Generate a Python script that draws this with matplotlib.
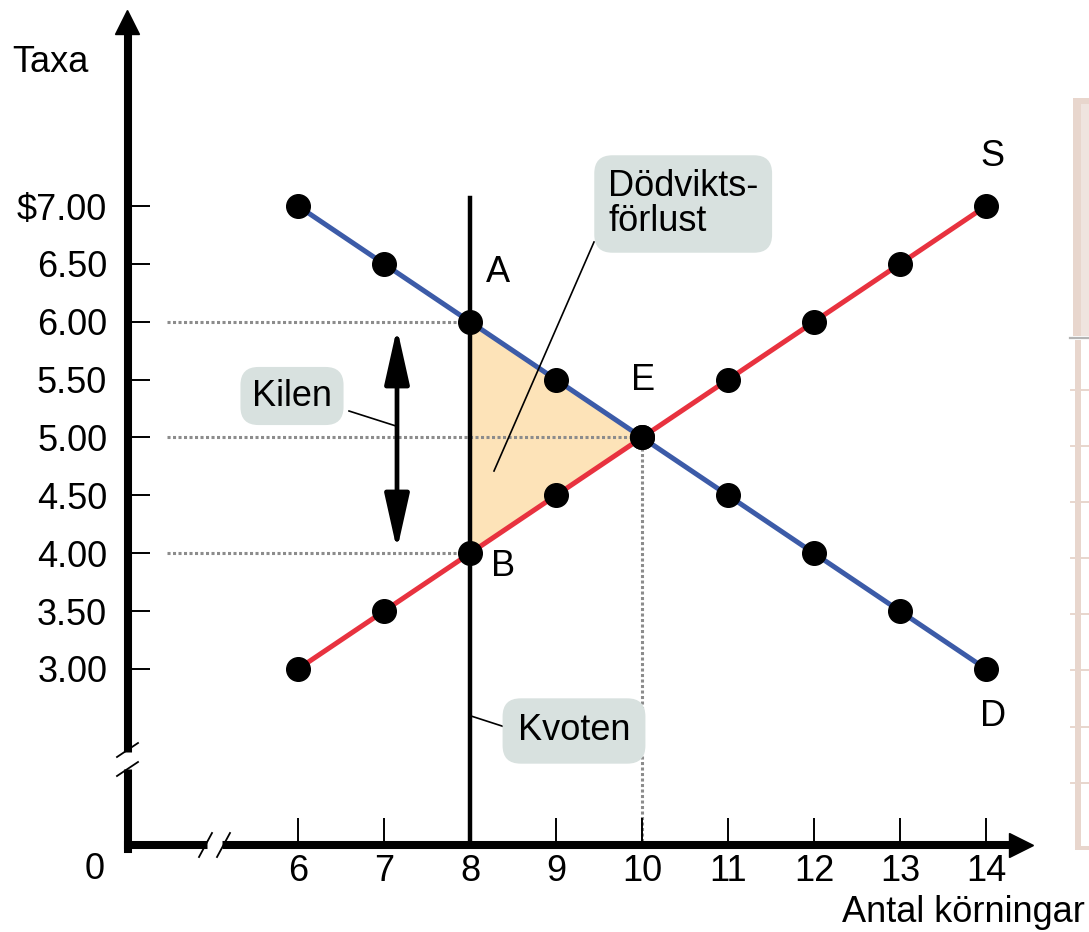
import matplotlib.pyplot as plt
from matplotlib.patches import Rectangle

plt.rcParams['font.family'] = ['Liberation Sans', 'DejaVu Sans']

# data
quantity = [6, 7, 8, 9, 10, 11, 12, 13, 14]
demand = [7.0, 6.5, 6.0, 5.5, 5.0, 4.5, 4.0, 3.5, 3.0]
supply = [3.0, 3.5, 4.0, 4.5, 5.0, 5.5, 6.0, 6.5, 7.0]
price_ticks = [3.0, 3.5, 4.0, 4.5, 5.0, 5.5, 6.0, 6.5, 7.0]
price_labels = ['3.00', '3.50', '4.00', '4.50', '5.00', '5.50', '6.00', '6.50', r'\$7.00']
quota = 8
q_eq = 10
p_eq = 5.0

W, H = 1089, 932
# pixel calibration of the reference picture
PX_X = (986 - 298) / 8
PX_Y = (669 - 206) / 4


def px(xp, yp):
    return 6 + (xp - 298) / PX_X, 7 - (yp - 206) / PX_Y


def axfrac(xp, yp):
    return xp / W, 1 - yp / H


BLUE = '#3c5ba8'
RED = '#e8323f'
BOX = '#d8e1df'
FS = 26

fig = plt.figure(figsize=(W / 100, H / 100), dpi=100)
ax = fig.add_axes([0, 0, 1, 1])
ax.set_xlim(px(0, 0)[0], px(W, 0)[0])
ax.set_ylim(px(0, H)[1], px(0, 0)[1])

x0, y0 = px(128, 845)
ax.spines['top'].set_visible(False)
ax.spines['right'].set_visible(False)
ax.spines['left'].set_position(('data', x0))
ax.spines['bottom'].set_position(('data', y0))
ax.spines['left'].set_linewidth(5.8)
ax.spines['bottom'].set_linewidth(5.8)
ax.spines['left'].set_bounds(px(0, 849)[1], px(0, 30)[1])
ax.spines['bottom'].set_bounds(px(128, 0)[0], px(1012, 0)[0])

# axis arrow heads
ax.plot(*px(126.5, 22), marker='^', ms=17, color='black', clip_on=False, zorder=5)
ax.plot(*px(1021, 845), marker='>', ms=17, color='black', clip_on=False, zorder=5)

ax.set_xticks(quantity)
ax.set_xticklabels([str(q) for q in quantity])
ax.set_yticks(price_ticks)
ax.set_yticklabels(price_labels)
ax.tick_params(axis='x', direction='in', length=19.5, width=1.4, pad=6.5, labelsize=FS)
ax.tick_params(axis='y', direction='in', length=16, width=1.4, pad=15, labelsize=FS)

# axis breaks
yb1, yb2 = px(0, 752)[1], px(0, 769)[1]
ax.plot([x0, x0], [yb1, yb2], color='white', lw=8, solid_capstyle='butt', zorder=3)
for off in (0, 19):
    a = px(117, 757 + off)
    b = px(138, 743 + off)
    ax.plot([a[0], b[0]], [a[1], b[1]], color='black', lw=1.3, zorder=4)
xb1, xb2 = px(207, 0)[0], px(222, 0)[0]
ax.plot([xb1, xb2], [y0, y0], color='white', lw=8, solid_capstyle='butt', zorder=3)
for off in (0, 18):
    a = px(199 + off, 857)
    b = px(212 + off, 833)
    ax.plot([a[0], b[0]], [a[1], b[1]], color='black', lw=1.3, zorder=4)

# deadweight loss triangle
pA = demand[quantity.index(quota)]
pB = supply[quantity.index(quota)]
ax.fill([quota, q_eq, quota], [pA, p_eq, pB], color='#fde3b8', lw=0, zorder=1)

# dotted guides
xs = px(167, 0)[0]
dot = dict(color='#8c8c8c', lw=2.2, linestyle=(0, (1, 0.8)), zorder=1.5)
ax.plot([xs, quota], [pA, pA], **dot)
ax.plot([xs, q_eq], [p_eq, p_eq], **dot)
ax.plot([xs, quota], [pB, pB], **dot)
ax.plot([q_eq, q_eq], [p_eq, y0], **dot)

# curves
ax.plot(quantity, demand, color=BLUE, lw=3.6, zorder=2)
ax.plot(quantity, supply, color=RED, lw=3.6, zorder=2)

# quota line
ax.plot([quota, quota], [y0, px(0, 198)[1]], color='black', lw=3.2, zorder=3)

ax.plot(quantity, demand, 'o', color='black', ms=17, zorder=4)
ax.plot(quantity, supply, 'o', color='black', ms=17, zorder=4)

# wedge double arrow
xk = px(397, 0)[0]
ax.annotate('', xy=(xk, px(0, 328)[1]), xytext=(xk, px(0, 550)[1]),
            arrowprops=dict(arrowstyle='<|-|>,head_length=1.7,head_width=0.38',
                            color='black', lw=3.4, shrinkA=0, shrinkB=0,
                            mutation_scale=20), zorder=4)

# point labels
ax.text(*px(498, 272), 'A', fontsize=FS, ha='center', va='center')
ax.text(*px(503, 567), 'B', fontsize=FS, ha='center', va='center')
ax.text(*px(643, 380), 'E', fontsize=FS, ha='center', va='center')
ax.text(*px(992, 157), 'S', fontsize=FS, ha='center', va='center')
ax.text(*px(993, 717), 'D', fontsize=FS, ha='center', va='center')

# callout boxes
ax.text(*px(292, 396), 'Kilen', fontsize=FS, ha='center', va='center',
        bbox=dict(boxstyle='round,pad=0.32,rounding_size=0.5', fc=BOX, ec='none'), zorder=5)
a, b = px(349, 411), px(396, 426)
ax.plot([a[0], b[0]], [a[1], b[1]], color='black', lw=1.2, zorder=4)

ax.text(*px(608, 204), 'Dödvikts-\nförlust', fontsize=FS, ha='left', va='center',
        linespacing=1.0,
        bbox=dict(boxstyle='round,pad=0.38,rounding_size=0.5', fc=BOX, ec='none'), zorder=5)
a, b = px(594, 242), px(494, 471)
ax.plot([a[0], b[0]], [a[1], b[1]], color='black', lw=1.2, zorder=4)

ax.text(*px(574, 731), 'Kvoten', fontsize=FS, ha='center', va='center',
        bbox=dict(boxstyle='round,pad=0.42,rounding_size=0.5', fc=BOX, ec='none'), zorder=5)
a, b = px(471, 716), px(505, 727)
ax.plot([a[0], b[0]], [a[1], b[1]], color='black', lw=1.2, zorder=4)

# axis titles
ax.text(*px(50, 63), 'Taxa', fontsize=FS, ha='center', va='center')
ax.text(*px(1085, 913), 'Antal körningar', fontsize=FS, ha='right', va='center')
ax.text(*px(95, 869), '0', fontsize=FS, ha='center', va='center')

# faint panel edge on the right margin
pink = '#e8d6cd'
ax.add_patch(Rectangle(axfrac(1072.5, 336), 16.5 / W, 238 / H, transform=ax.transAxes,
                       fc=pink, ec='none', clip_on=False))
ax.add_patch(Rectangle(axfrac(1080.5, 336), 8.5 / W, 232 / H, transform=ax.transAxes,
                       fc='#efe4df', ec='none', clip_on=False))
ax.add_patch(Rectangle(axfrac(1075, 850), 6 / W, 510 / H, transform=ax.transAxes,
                       fc=pink, ec='none', clip_on=False))
ax.add_patch(Rectangle(axfrac(1075, 850), 14 / W, 4 / H, transform=ax.transAxes,
                       fc=pink, ec='none', clip_on=False))
ax.plot([1070 / W, 1], [1 - 338 / H] * 2, transform=ax.transAxes, color='#b4b4b4', lw=1.6)
for yp in (390, 446, 502, 558, 614, 670, 727, 783):
    ax.plot([1071 / W, 1], [1 - yp / H] * 2, transform=ax.transAxes, color=pink, lw=1.4)

fig.savefig('out.png', dpi=100)
